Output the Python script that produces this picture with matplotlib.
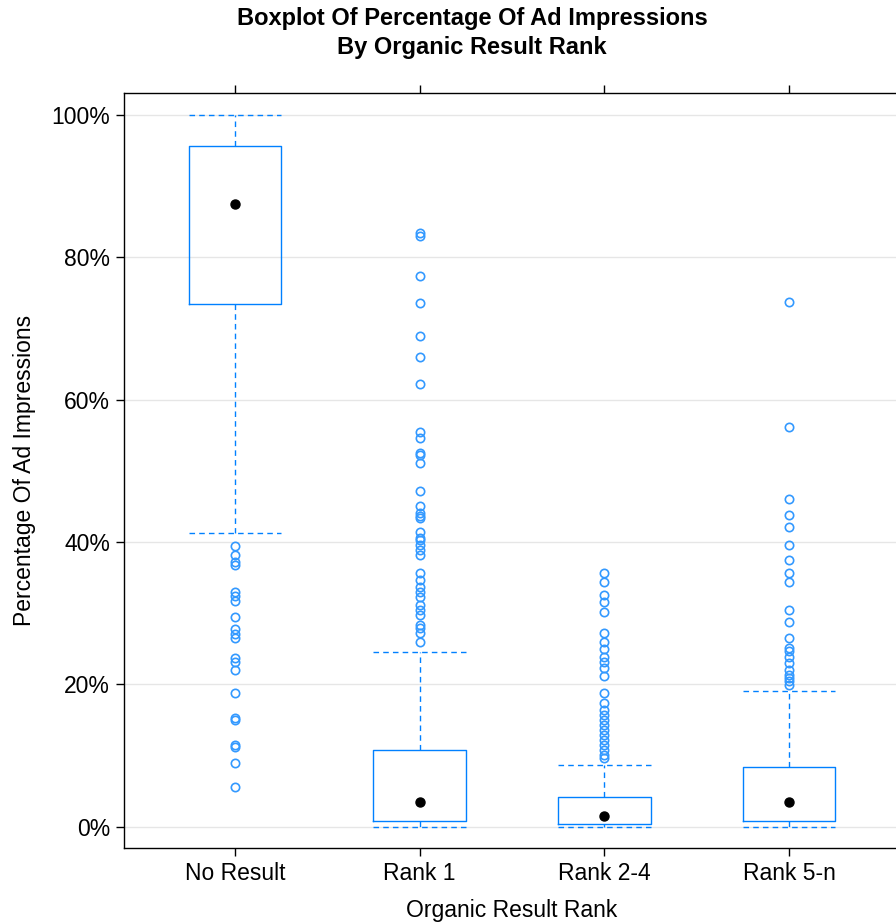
import matplotlib
matplotlib.use('Agg')
import matplotlib.pyplot as plt

plt.rcParams['font.family'] = ['Liberation Sans', 'DejaVu Sans']

groups = ['No Result', 'Rank 1', 'Rank 2-4', 'Rank 5-n']

# box stats (percent)
q1 = [73.5, 0.8, 0.4, 0.8]
med = [87.5, 3.5, 1.5, 3.5]
q3 = [95.6, 10.7, 4.1, 8.4]
whislo = [41.3, 0.0, 0.0, 0.0]
whishi = [100.0, 24.6, 8.7, 19.0]

out_noresult = [39.5, 38.1, 37.2, 36.8, 33.0, 32.4, 31.7, 29.4, 27.8, 27.1, 26.5,
                23.7, 23.2, 22.0, 18.8, 15.2, 15.0, 11.5, 11.2, 9.0, 5.6]
out_rank1 = [83.4, 83.0, 77.4, 73.6, 69.0, 66.0, 62.2, 55.5, 54.6, 52.5, 52.2, 51.1,
             47.2, 45.1, 44.1, 43.7, 43.4, 41.4, 40.6, 40.3, 39.6, 38.9, 38.2,
             35.7, 34.7, 33.7, 33.0, 32.2, 31.2, 30.5, 29.8, 28.4, 27.9, 27.2, 26.0]
out_rank24 = [35.7, 34.4, 32.6, 31.5, 30.2, 27.2, 26.0, 24.9, 23.9, 23.2, 22.3, 21.1,
              18.8, 17.4, 16.4, 15.7, 15.0, 14.3, 13.6, 12.9, 12.2, 11.5, 10.8, 10.1, 9.7]
out_rank5n = [73.7, 56.2, 46.1, 43.8, 42.1, 39.6, 37.4, 35.7, 34.4, 30.5, 28.8, 26.5,
              25.1, 24.7, 23.9, 23.0, 22.0, 21.3, 20.9, 20.4, 19.9]
fliers = [out_noresult, out_rank1, out_rank24, out_rank5n]

yticks = [0, 20, 40, 60, 80, 100]

blue = '#0080ff'

fig = plt.figure(figsize=(8.96, 9.24), dpi=100)
ax = fig.add_axes([0.1384, 0.0823, 0.8661, 0.8171])

for t in yticks:
    ax.axhline(t, color='#e6e6e6', lw=1, zorder=0)

stats = []
for i in range(len(groups)):
    stats.append(dict(q1=q1[i], med=med[i], q3=q3[i], whislo=whislo[i],
                      whishi=whishi[i], fliers=fliers[i], label=groups[i]))

pos = [1, 2, 3, 4]
ax.bxp(stats, positions=pos, widths=0.5, capwidths=0.5,
       boxprops=dict(color=blue, lw=1),
       whiskerprops=dict(color=blue, lw=1, linestyle=(0, (4, 3))),
       capprops=dict(color=blue, lw=1, linestyle=(0, (4, 3))),
       medianprops=dict(linestyle='none'),
       flierprops=dict(marker='o', markerfacecolor='none', markeredgecolor='#3399ff',
                       markersize=6, markeredgewidth=1.2))
ax.plot(pos, med, 'o', color='black', markersize=6.5, zorder=5)

ax.set_xlim(0.4, 4.6)
ax.set_ylim(-3, 103.1)
ax.set_xticks(pos)
ax.set_xticklabels(groups)
ax.set_yticks(yticks)
ax.set_yticklabels([str(t) + '%' for t in yticks])
ax.tick_params(axis='both', direction='out', length=6, width=1, labelsize=16.5,
               colors='black', pad=4)
ax.tick_params(axis='x', top=True)
ax.tick_params(axis='y', right=True)
for s in ax.spines.values():
    s.set_linewidth(1)

ax.set_xlabel('Organic Result Rank', fontsize=16.5, labelpad=10)
ax.set_ylabel('Percentage Of Ad Impressions', fontsize=16.5, labelpad=11)

fig.text(0.527, 0.9645, 'Boxplot Of Percentage Of Ad Impressions\nBy Organic Result Rank',
         ha='center', va='center', fontsize=17, fontweight='bold', linespacing=1.3)

plt.savefig('out.png', dpi=100)
